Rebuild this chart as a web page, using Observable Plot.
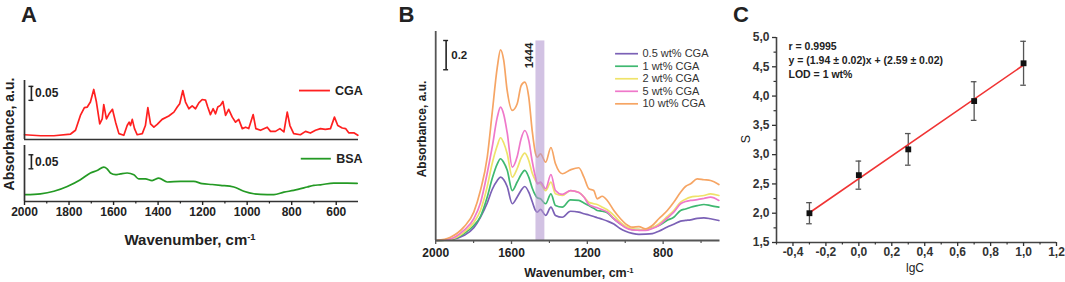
<!DOCTYPE html>
<html><head><meta charset="utf-8">
<script src="https://cdn.jsdelivr.net/npm/d3@7"></script>
<script src="https://cdn.jsdelivr.net/npm/@observablehq/plot@0.6"></script>
<style>
body{margin:0;background:#fff;}
#root{position:relative;width:1065px;height:282px;overflow:hidden;font-family:"Liberation Sans",Arial,sans-serif;color:#222;}
.t{position:absolute;white-space:nowrap;transform:translate(-50%,-50%);line-height:1;}
.r{transform:translate(-50%,-50%) rotate(-90deg);}
sup{font-size:0.62em;position:relative;top:-0.55em;vertical-align:baseline;line-height:0;}
</style></head><body><div id="root"></div>
<script>
// ---------- Panel A data ----------
const cgaWave = [2000,1928,1868,1793,1771,1749,1731,1718,1704,1689,1677,1662,1651,1644,1632,1620,1605,1591,1576,1554,1539,1530,1524,1516,1506,1494,1471,1457,1446,1434,1419,1404,1382,1352,1329,1314,1303,1289,1277,1262,1247,1232,1217,1202,1187,1177,1165,1153,1142,1132,1120,1109,1097,1083,1067,1052,1038,1022,1007,993,973,961,940,910,895,873,853,835,820,808,791,761,738,716,693,671,649,626,608,593,573,558,544,521,503];
const cgaAbs = [0.013,0.0095,0.0095,0.0155,0.029,0.082,0.110,0.112,0.130,0.175,0.130,0.052,0.070,0.121,0.070,0.088,0.104,0.058,0.017,0.011,0.046,0.058,0.046,0.068,0.035,0.013,0.017,0.046,0.110,0.052,0.040,0.050,0.068,0.080,0.094,0.112,0.124,0.171,0.130,0.106,0.116,0.106,0.127,0.139,0.137,0.112,0.085,0.106,0.088,0.112,0.118,0.132,0.082,0.104,0.076,0.058,0.068,0.035,0.040,0.035,0.085,0.035,0.029,0.040,0.025,0.025,0.035,0.023,0.094,0.046,0.017,0.013,0.025,0.019,0.029,0.035,0.032,0.035,0.076,0.046,0.037,0.035,0.020,0.020,0.011];
const bsaWave = [1996,1928,1868,1808,1749,1704,1674,1644,1629,1614,1591,1569,1539,1509,1487,1457,1427,1397,1359,1299,1240,1202,1157,1120,1060,1015,970,910,880,835,791,730,701,671,611,551,506];
const bsaAbs = [0.021,0.024,0.033,0.050,0.074,0.098,0.107,0.119,0.113,0.098,0.092,0.095,0.098,0.092,0.077,0.077,0.071,0.080,0.066,0.068,0.068,0.060,0.057,0.054,0.048,0.033,0.024,0.021,0.021,0.030,0.036,0.048,0.054,0.056,0.062,0.062,0.061];
const aMajorTicks = [2000,1800,1600,1400,1200,1000,800,600];
const aMinorTicks = [1900,1700,1500,1300,1100,900,700];

// ---------- Panel B data ----------
const waveB = [1995,1922,1852,1799,1764,1728,1702,1675,1658,1641,1623,1596,1570,1549,1530,1509,1491,1473,1464,1447,1420,1392,1368,1332,1289,1245,1218,1192,1166,1148,1121,1095,1060,1025,998,963,928,893,857,823,778,744,708,682,655,620,585,550,506];
const cga05 = [0,0.005,0.033,0.085,0.155,0.25,0.34,0.4,0.422,0.405,0.36,0.245,0.29,0.335,0.36,0.322,0.26,0.2,0.189,0.207,0.167,0.222,0.167,0.155,0.195,0.189,0.178,0.17,0.16,0.152,0.142,0.13,0.11,0.078,0.062,0.048,0.041,0.042,0.046,0.062,0.09,0.108,0.129,0.134,0.138,0.148,0.151,0.145,0.133];
const cga1 = [0,0.006,0.045,0.1,0.16,0.29,0.413,0.511,0.545,0.52,0.47,0.333,0.39,0.44,0.467,0.422,0.35,0.3,0.285,0.278,0.245,0.311,0.233,0.222,0.271,0.267,0.25,0.233,0.215,0.2,0.195,0.185,0.145,0.11,0.089,0.073,0.072,0.071,0.085,0.1,0.135,0.155,0.2,0.21,0.222,0.232,0.24,0.233,0.222];
const cga2 = [0,0.008,0.053,0.12,0.2,0.36,0.513,0.633,0.685,0.65,0.58,0.422,0.48,0.55,0.582,0.533,0.45,0.4,0.385,0.378,0.333,0.389,0.311,0.3,0.333,0.322,0.29,0.255,0.245,0.24,0.222,0.205,0.167,0.12,0.095,0.078,0.072,0.071,0.085,0.11,0.16,0.2,0.255,0.275,0.289,0.295,0.3,0.311,0.3];
const cga5 = [0,0.011,0.067,0.145,0.25,0.45,0.622,0.822,0.889,0.84,0.72,0.489,0.56,0.68,0.733,0.667,0.53,0.42,0.378,0.389,0.345,0.44,0.333,0.307,0.333,0.32,0.29,0.24,0.225,0.218,0.205,0.19,0.145,0.11,0.085,0.071,0.068,0.067,0.08,0.1,0.15,0.189,0.245,0.26,0.267,0.272,0.28,0.289,0.267];
const cga10 = [0,0.022,0.089,0.189,0.333,0.555,0.85,1.155,1.271,1.2,1.0,0.867,0.911,1.033,1.055,0.955,0.733,0.578,0.555,0.578,0.522,0.62,0.511,0.445,0.471,0.485,0.422,0.345,0.333,0.278,0.295,0.267,0.2,0.145,0.111,0.089,0.093,0.078,0.1,0.145,0.2,0.255,0.322,0.36,0.378,0.411,0.405,0.4,0.373];
const namesB = ["0.5 wt% CGA","1 wt% CGA","2 wt% CGA","5 wt% CGA","10 wt% CGA"];
const seriesB = [cga05, cga1, cga2, cga5, cga10];
const colorsB = ["#7b61b6","#3fb870","#efe36a","#ef78ca","#f6a564"];
const bMajorTicks = [2000,1600,1200,800];
const bMinorTicks = [1800,1400,1000,600];
const band1444 = [{from:1471, to:1424, label:"1444"}];

// ---------- Panel C data ----------
const lgC = [-0.3, 0, 0.3, 0.7, 1.0];
const sVal = [2.00, 2.65, 3.09, 3.915, 4.56];
const sErr = [0.18, 0.24, 0.27, 0.33, 0.375];
const fit = {slope: 1.94, intercept: 2.59, from: -0.3, to: 1.0};
const cXTicks = [-0.4,-0.2,0,0.2,0.4,0.6,0.8,1.0,1.2];
const cXMinor = [-0.5,-0.3,-0.1,0.1,0.3,0.5,0.7,0.9,1.1];
const cYTicks = [1.5,2.0,2.5,3.0,3.5,4.0,4.5,5.0];
const cYMinor = [1.75,2.25,2.75,3.25,3.75,4.25,4.75];
const cNote = ["r = 0.9995","y = (1.94 \u00b1 0.02)x + (2.59 \u00b1 0.02)","LOD = 1 wt%"];

// ---------- helpers ----------
const FONT = '"Liberation Sans", Arial, sans-serif';
const AX = "#333";
const root = document.getElementById("root");
function place(el, left, top){
  el.style.position = "absolute";
  el.style.left = left + "px";
  el.style.top = top + "px";
  el.style.background = "transparent";
  el.style.overflow = "visible";
  el.style.maxWidth = "none";
  root.appendChild(el);
}
function label(html, cx, cy, size, weight, rotate){
  const d = document.createElement("div");
  d.className = "t" + (rotate ? " r" : "");
  d.style.left = cx + "px"; d.style.top = cy + "px";
  d.style.fontSize = size + "px"; d.style.fontWeight = weight;
  d.innerHTML = html;
  root.appendChild(d);
}
const comma = d => d.toFixed(1).replace(".", ",");

// ---------- Panel A ----------
const RED = "#ff2020", GREEN = "#249a24";
const cga = cgaWave.map((w,i) => ({w, a: cgaAbs[i]}));
const bsa = bsaWave.map((w,i) => ({w, a: bsaAbs[i]}));
const aYminTop = -0.004, aYminBot = -0.0035;

function scaleBar(x, y0, len, txt, tx){
  return [
    Plot.ruleX([x], {y1: y0, y2: y0 + len, stroke: "#222", strokeWidth: 1.6}),
    Plot.ruleY([y0, y0 + len], {y: d => d, x1: x + 11, x2: x - 11, stroke: "#222", strokeWidth: 1.4}),
    Plot.text([txt], {x: tx, y: y0 + len / 2, text: d => d, textAnchor: "start", fontSize: 12, fontWeight: "bold", fill: "#222"})
  ];
}

const aTop = Plot.plot({
  width: 372, height: 70, marginLeft: 24, marginRight: 14, marginTop: 8, marginBottom: 3,
  x: {domain: [2000, 500], axis: null},
  y: {domain: [aYminTop, 0.207], axis: null},
  style: {fontFamily: FONT, color: "#222"},
  marks: [
    Plot.line(cga, {x: "w", y: "a", stroke: RED, strokeWidth: 1.7}),
    Plot.ruleX([2000], {stroke: AX, strokeWidth: 1.7}),
    Plot.ruleY([aYminTop], {stroke: AX, strokeWidth: 1.7}),
    ...scaleBar(1969, 0.136, 0.05, "0.05", 1953),
    Plot.ruleY([0.171], {x1: 765, x2: 626, stroke: RED, strokeWidth: 1.8}),
    Plot.text(["CGA"], {x: 606, y: 0.171, text: d => d, textAnchor: "start", fontSize: 12.5, fontWeight: "bold", fill: "#222"})
  ]
});
place(aTop, 0, 72);

const aBot = Plot.plot({
  width: 372, height: 109, marginLeft: 24, marginRight: 14, marginTop: 3, marginBottom: 50,
  x: {domain: [2000, 500], axis: null},
  y: {domain: [aYminBot, 0.196], axis: null},
  style: {fontFamily: FONT, color: "#222", fontSize: "12px", fontWeight: "bold"},
  marks: [
    Plot.line(bsa, {x: "w", y: "a", stroke: GREEN, strokeWidth: 1.7, curve: "monotone-x"}),
    Plot.ruleX([2000], {stroke: AX, strokeWidth: 1.7}),
    Plot.ruleY([aYminBot], {stroke: AX, strokeWidth: 1.7}),
    Plot.axisX({ticks: aMajorTicks, tickSize: 4, tickPadding: 2, tickFormat: d3.format("d"), label: null, strokeWidth: 1.4}),
    Plot.axisX({ticks: aMinorTicks, tickSize: 2.5, tickFormat: () => "", label: null, strokeWidth: 1.2}),
    ...scaleBar(1969, 0.113, 0.05, "0.05", 1953),
    Plot.ruleY([0.149], {x1: 757, x2: 622, stroke: GREEN, strokeWidth: 1.8}),
    Plot.text(["BSA"], {x: 600, y: 0.149, text: d => d, textAnchor: "start", fontSize: 12.5, fontWeight: "bold", fill: "#222"})
  ]
});
place(aBot, 0, 142);

// ---------- Panel B ----------
const rowsB = [];
seriesB.forEach((vals, k) => vals.forEach((a, i) => rowsB.push({w: waveB[i], a, s: namesB[k]})));
const bTop = 1.393;
const legY0 = 1.245, legStep = 0.0835;
const bPlot = Plot.plot({
  width: 330, height: 282, marginLeft: 35.2, marginRight: 10.5, marginTop: 31, marginBottom: 42,
  x: {domain: [2000, 500], axis: null},
  y: {domain: [0, bTop], axis: null},
  color: {domain: namesB, range: colorsB},
  style: {fontFamily: FONT, color: "#222", fontSize: "12px", fontWeight: "bold"},
  marks: [
    Plot.line(rowsB, {x: "w", y: "a", z: "s", stroke: "s", strokeWidth: 1.7, curve: "monotone-x"}),
    Plot.rect(band1444, {x1: "from", x2: "to", y1: 0, y2: 1.330, fill: "#b49ad0", fillOpacity: 0.6}),
    Plot.text(band1444, {x: 1508, y: 1.233, text: "label", rotate: -90, fontSize: 11.5, fontWeight: "bold", fill: "#222"}),
    Plot.ruleX([2000], {stroke: "#555", strokeWidth: 1.8}),
    Plot.ruleY([0], {stroke: "#555", strokeWidth: 1.8}),
    Plot.axisX({ticks: bMajorTicks, tickSize: 4, tickPadding: 4, tickFormat: d3.format("d"), label: null, strokeWidth: 1.3, stroke: "#555"}),
    Plot.axisX({ticks: bMinorTicks, tickSize: 3, tickFormat: () => "", label: null, strokeWidth: 1.2, stroke: "#555"}),
    Plot.ruleX([1945], {y1: 1.138, y2: 1.333, stroke: "#222", strokeWidth: 1.6}),
    Plot.ruleY([1.138, 1.333], {y: d => d, x1: 1958, x2: 1932, stroke: "#222", strokeWidth: 1.4}),
    Plot.text(["0.2"], {x: 1918, y: 1.236, text: d => d, textAnchor: "start", fontSize: 11.5, fontWeight: "bold", fill: "#222"}),
    Plot.ruleY(namesB, {y: (d, i) => legY0 - i * legStep, x1: 1051, x2: 930, stroke: d => d, strokeWidth: 1.7}),
    Plot.text(namesB, {x: 909, y: (d, i) => legY0 - i * legStep, text: d => d, textAnchor: "start", fontSize: 11, fontWeight: "normal", fill: "#333"})
  ]
});
place(bPlot, 400, 0);

// ---------- Panel C ----------
const pts = lgC.map((x, i) => ({x, y: sVal[i], e: sErr[i]}));
const fitLine = [fit.from, fit.to].map(x => ({x, y: fit.slope * x + fit.intercept}));
const cPlot = Plot.plot({
  width: 345, height: 282, marginLeft: 56, marginRight: 9, marginTop: 37, marginBottom: 40,
  x: {domain: [-0.5, 1.2], axis: null},
  y: {domain: [1.5, 5.0], axis: null},
  style: {fontFamily: FONT, color: "#333", fontSize: "12px", fontWeight: "bold"},
  marks: [
    Plot.ruleX(pts, {x: "x", y1: d => d.y - d.e, y2: d => d.y + d.e, stroke: "#555", strokeWidth: 1.3}),
    Plot.ruleY(pts, {y: d => d.y + d.e, x1: d => d.x - 0.017, x2: d => d.x + 0.017, stroke: "#555", strokeWidth: 1.3}),
    Plot.ruleY(pts, {y: d => d.y - d.e, x1: d => d.x - 0.017, x2: d => d.x + 0.017, stroke: "#555", strokeWidth: 1.3}),
    Plot.line(fitLine, {x: "x", y: "y", stroke: "#f03434", strokeWidth: 1.6}),
    Plot.dot(pts, {x: "x", y: "y", symbol: "square", fill: "#111", r: 3.3}),
    Plot.ruleX([-0.5], {stroke: "#444", strokeWidth: 1.6}),
    Plot.ruleY([1.5], {stroke: "#444", strokeWidth: 1.6}),
    Plot.axisX({ticks: cXTicks, tickSize: 4, tickPadding: 1, tickFormat: comma, label: null, strokeWidth: 1.3}),
    Plot.axisX({ticks: cXMinor, tickSize: 2.5, tickFormat: () => "", label: null, strokeWidth: 1.2}),
    Plot.axisY({ticks: cYTicks, tickSize: 4, tickPadding: 3, tickFormat: comma, label: null, strokeWidth: 1.3}),
    Plot.axisY({ticks: cYMinor, tickSize: 2.5, tickFormat: () => "", label: null, strokeWidth: 1.2}),
    Plot.text([cNote.join("\n")], {frameAnchor: "top-left", dx: 12, dy: 2, text: d => d, textAnchor: "start", lineAnchor: "top", lineHeight: 1.34, fontSize: 10.5, fontWeight: "bold", fill: "#222"})
  ]
});
place(cPlot, 720, 0);

// ---------- HTML titles ----------
label("A", 29, 15, 22, "bold");
label("B", 406.5, 15, 22, "bold");
label("C", 741, 15, 22, "bold");
label("Absorbance, a.u.", 8.5, 133.5, 14, "bold", true);
label("Wavenumber, cm<sup>-1</sup>", 190, 239, 15, "bold");
label("Absorbance, a.u.", 422, 128.5, 12, "bold", true);
label("Wavenumber, cm<sup>-1</sup>", 579, 273, 12.5, "bold");
label("S", 745.5, 139, 12.5, "normal", true);
label("lgC", 915, 268, 12, "normal");
</script></body></html>
